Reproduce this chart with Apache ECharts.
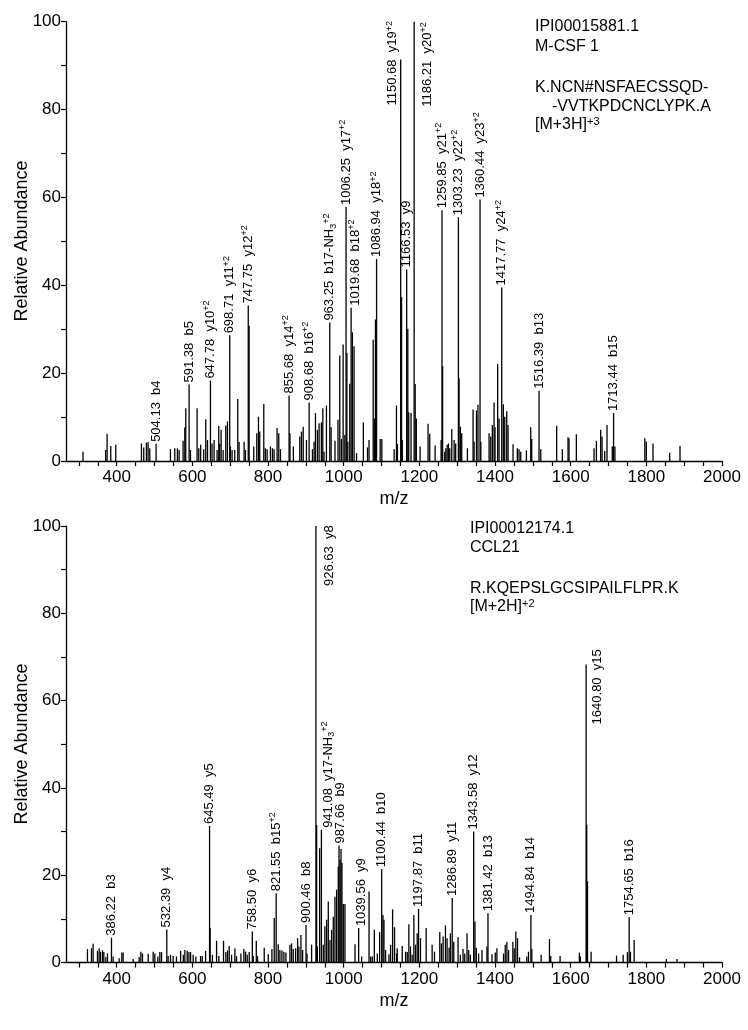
<!DOCTYPE html>
<html><head><meta charset="utf-8">
<script src="https://cdn.jsdelivr.net/npm/echarts@6/dist/echarts.min.js"></script>
<style>html,body{margin:0;padding:0;background:#fff}#c{width:748px;height:1030px}</style>
</head><body><div id="c"></div>
<script>
// ---------- DATA ----------
const topMz = [311,371,374.6,384.3,397.5,465.4,471.5,478.6,483,487.4,504.13,542,553.5,560.5,565,575.5,580,582.6,591.38,595,612.5,617,622,630,635.4,640,647.78,652,657.5,665.4,669.8,672.4,676,681.3,688.3,692.7,698.71,700.6,705,712,720,723.5,736.8,740.3,747.75,750,762.3,770.3,774.7,778,788.8,793,797.6,806.4,811.7,816,824,828.4,833,855.68,858,867,884,888.4,893,901.6,908.68,917.4,921.8,925.4,930.6,935,941,944.8,948,954.4,963.25,966.8,977,985,989.7,994,998.5,1003,1006.25,1008.5,1011,1016,1019.68,1023,1027.5,1034,1052,1063,1067,1078,1081,1084,1086.94,1096.4,1100.8,1133.4,1139.5,1142,1150.68,1153,1155,1166.53,1169.5,1172,1178,1186.21,1189,1192,1202,1223,1227.5,1241.7,1257.5,1259.85,1261.5,1267,1270,1273.5,1277,1280.5,1285.7,1291.9,1296,1303.23,1305,1308.5,1312,1327,1342,1344.7,1351,1355,1360.44,1362.5,1384.3,1388.7,1393,1397.5,1400,1407,1410.7,1417.77,1422,1425.7,1431,1434.5,1447.7,1459,1463.5,1468,1483,1494.4,1497,1516.39,1521,1563,1578,1593,1595.6,1615,1661.7,1668,1679.3,1683,1690,1696,1710,1713.44,1717,1796,1800,1817.6,1861.7,1889];
const topInt = [2.1,2.5,6.2,3.4,3.7,4.0,3.1,4.2,4.3,2.9,3.9,2.7,2.9,2.9,2.5,4.6,7.6,12.0,17.4,2.5,12.0,2.9,3.7,2.7,9.5,4.8,18.3,4.0,4.8,2.5,8.0,3.9,7.1,2.5,8.1,9.0,28.6,3.3,2.5,2.5,14.1,4.3,4.4,2.5,35.4,30.8,3.3,6.3,10.1,6.7,13.0,2.9,2.7,3.3,2.9,2.7,7.5,6.3,2.7,14.9,6.3,3.3,5.6,6.7,7.8,4.8,13.3,2.7,4.4,10.9,7.1,8.6,8.8,12.0,2.1,12.6,31.5,7.7,4.6,9.4,24.0,5.0,26.5,5.9,57.8,24.6,4.4,17.6,34.9,29.3,26.1,1.8,8.8,3.1,4.8,27.6,9.7,32.2,46.0,5.0,5.0,2.7,12.6,3.9,91.4,37.3,4.8,43.6,30.1,11.1,10.9,100,17.5,9.7,3.3,8.5,6.2,3.5,4.8,57.1,21.6,2.1,2.9,3.7,4.0,2.9,7.3,4.8,4.0,55.5,18.9,7.8,6.3,2.9,11.7,4.4,11.5,12.8,59.5,4.4,6.3,5.6,8.2,13.3,7.7,22.1,9.7,39.5,12.9,10.1,11.3,8.2,3.8,2.9,2.7,2.1,2.4,7.7,5.0,16.0,2.7,8.0,2.7,5.4,5.2,6.1,2.9,4.6,7.1,5.6,2.3,8.2,3.3,10.9,3.3,5.2,4.4,4.0,1.9,3.4];
const topLabelMz = [504.13,591.38,647.78,698.71,747.75,855.68,908.68,963.25,1006.25,1019.68,1086.94,1150.68,1166.53,1186.21,1259.85,1303.23,1360.44,1417.77,1516.39,1713.44];
const topLabelIon = ['b4','b5','y10^+2','y11^+2','y12^+2','y14^+2','b16^+2','b17-NH_3^+2','y17^+2','b18^+2','y18^+2','y19^+2','y9','y20^+2','y21^+2','y22^+2','y23^+2','y24^+2','b13','b15'];
const topInfo = ['IPI00015881.1','M-CSF 1','K.NCN#NSFAECSSQD-','-VVTKPDCNCLYPK.A','[M+3H]^+3'];

const botMz = [322.7,333.3,337.7,349.2,353.6,357.1,362.4,366,371.2,375.6,386.22,390.6,406.5,413.5,417,443.5,459.4,463.8,468.2,483.2,496.4,500.8,508.8,514,518.5,532.39,536,542.3,549.3,558,568.9,576,580.2,586.4,590.9,595.3,602.2,609.3,621.6,626,635,645.49,647,653,664,670,682.4,688.6,693,697.4,703.6,712.4,716.8,728.3,736.2,740.6,745,750.3,758.5,761,769,772.4,790,800.6,810.3,816.4,821.55,827,831.4,836.7,842,847.3,857.9,862.3,866.7,872.9,878.2,881.7,887,891.4,900.46,903,915.2,926.63,928.5,930.5,936.5,941.08,946,950.4,955,959.3,963.7,968,972.5,976.9,981.3,985.7,987.66,990.5,993,995.4,999,1003.4,1030,1039.56,1047.4,1067,1071.4,1075.7,1081,1088.9,1095,1100.44,1103.8,1106.4,1110.8,1119.6,1124,1129.3,1134.5,1139.8,1141.6,1154.8,1163.6,1168,1172.3,1176.7,1181,1185.5,1189.9,1194.3,1197.87,1203,1218,1233.8,1240,1254,1258.4,1262.8,1269,1273.3,1278.6,1282,1286.89,1291,1302.3,1308.4,1315.5,1319.9,1326,1330.4,1334.8,1343.58,1347,1350.6,1356.7,1365.5,1378.7,1381.42,1392,1400.7,1405,1422.6,1427,1431.4,1435.8,1447.2,1450.7,1455,1459.5,1464.8,1484,1488.5,1494.84,1497.3,1521.9,1544,1547.4,1572,1623,1625.6,1640.8,1642.5,1644.5,1654,1721.3,1738.8,1750,1754.65,1758,1767.8,1853,1881];
const botInt = [3.1,3.3,4.3,2.7,3.3,2.5,2.8,2.4,1.2,2.1,5.7,1.4,1.0,2.3,2.3,0.8,1.2,2.5,2.1,2.0,2.5,2.1,1.4,2.4,2.4,7.6,1.5,1.8,1.5,1.4,2.7,1.8,2.9,2.7,2.4,2.4,1.8,1.4,1.5,1.5,2.7,31.3,7.9,1.8,5.0,1.5,5.0,2.4,2.8,3.8,1.8,3.3,1.5,2.1,3.1,2.5,1.8,2.4,7.1,1.5,5.0,1.5,3.4,1.9,3.1,10.2,15.9,4.2,2.9,2.8,2.5,2.3,4.1,4.4,3.1,3.3,5.6,3.7,6.3,2.9,8.6,2.1,4.1,100,31.5,3.7,26.2,30.4,4.1,8.3,9.8,14.0,5.2,7.5,10.5,15.1,16.7,22.0,26.8,23.5,26.0,22.8,13.4,13.4,4.2,7.9,1.4,16.3,1.4,1.4,7.5,2.1,7.0,21.4,10.9,9.8,2.9,1.9,4.1,12.2,8.1,2.1,3.3,3.8,2.5,2.4,8.8,3.7,1.8,10.9,4.1,6.7,12.3,5.6,7.9,4.1,2.5,7.0,4.4,6.0,8.5,5.6,3.4,6.7,14.8,4.8,5.8,1.8,3.1,2.1,6.7,2.9,1.8,30.0,9.4,3.4,2.1,2.9,3.7,11.3,1.9,2.3,3.3,2.1,4.1,4.8,2.9,4.8,3.3,7.1,5.6,1.2,1.4,2.5,10.9,3.1,1.8,5.4,1.5,1.5,2.3,1.4,68.3,31.6,18.6,2.5,1.6,1.8,2.4,10.4,2.5,5.2,0.8,0.8];
const botLabelMz = [386.22,532.39,645.49,758.5,821.55,900.46,926.63,941.08,987.66,1039.56,1100.44,1197.87,1286.89,1343.58,1381.42,1494.84,1640.8,1754.65];
const botLabelIon = ['b3','y4','y5','y6','b15^+2','b8','y8','y17-NH_3^+2','b9','y9','b10','b11','y11','y12','b13','b14','y15','b16'];
const botInfo = ['IPI00012174.1','CCL21','R.KQEPSLGCSIPAILFLPR.K','[M+2H]^+2'];

const xTickValues = [300,350,400,450,500,550,600,650,700,750,800,850,900,950,1000,1050,1100,1150,1200,1250,1300,1350,1400,1450,1500,1550,1600,1650,1700,1750,1800,1850,1900,1950,2000];
const xLabelValues = [400,600,800,1000,1200,1400,1600,1800,2000];
const yLabelValues = [0,20,40,60,80,100];
const yTitle = 'Relative Abundance';

// ---------- STYLE (pixel offsets for labels set beside tall peaks) ----------
const topLabelShift = {'1150.68':[-8,48],'1186.21':[13,87],'1019.68':[4,0]};
const botLabelShift = {'926.63':[13,62],'1640.8':[11,62],'941.08':[7,0],'987.66':[1,0],'1039.56':[3,0]};

const FONT = '"Liberation Sans", Arial, Helvetica, sans-serif';

function ionRich(s){
  let out = '{n|' + s + '}';
  out = out.replace(/_(\d+)/, '}{sub|$1}{n|');
  out = out.replace(/\^([^}]+)/, '}{sup|$1}{n|');
  return out.replace(/\{n\|\}/g, '');
}
const rich = {
  n: {fontSize: 13, fontFamily: FONT, fill: '#000', color:'#000', lineHeight: 16, verticalAlign: 'middle'},
  sup: {fontSize: 9, fontFamily: FONT, fill: '#000', color:'#000', lineHeight: 9, verticalAlign: 'top'},
  sub: {fontSize: 9, fontFamily: FONT, fill: '#000', color:'#000', lineHeight: 9, verticalAlign: 'bottom'}
};

function labelData(mzArr, intArr, lblMz, lblIon, shift){
  return lblMz.map((m, i) => {
    const h = intArr[mzArr.indexOf(m)];
    const s = shift[String(m)] || [0,0];
    return {value: [m, h, s[0], s[1]], text: '{n|' + m.toFixed(2) + '  }' + ionRich(lblIon[i])};
  });
}

function labelSeries(idx, data){
  return {
    type: 'custom', xAxisIndex: idx, yAxisIndex: idx, clip: false, silent: true,
    data: data,
    encode: {x: 0, y: 1},
    renderItem: function(params, api){
      const p = api.coord([api.value(0), api.value(1)]);
      const d = data[params.dataIndex];
      return {
        type: 'text', x: p[0] + api.value(2), y: p[1] - 2 + api.value(3), rotation: Math.PI/2,
        style: {text: d.text, rich: rich, align: 'left', verticalAlign: 'middle', fontSize: 13, fontFamily: FONT, fill: '#000'}
      };
    }
  };
}

function peakSeries(idx, mz, it){
  return {
    type: 'bar', xAxisIndex: idx, yAxisIndex: idx, barWidth: 1.3, silent: true,
    itemStyle: {color: '#000'},
    data: mz.map((m, i) => [m, it[i]])
  };
}

function xAxisCfg(idx){
  return {
    type: 'value', gridIndex: idx, min: 266, max: 2000,
    name: 'm/z', nameLocation: 'middle', nameGap: 29,
    nameTextStyle: {fontSize: 18, fontFamily: FONT, color: '#000'},
    axisLine: {lineStyle: {color: '#000', width: 1.3}},
    axisTick: {show: true, length: 5, customValues: xTickValues, lineStyle: {color: '#000', width: 1.2}},
    axisLabel: {customValues: xLabelValues, fontSize: 17, fontFamily: FONT, color: '#000', margin: 8,
      formatter: v => String(v)},
    splitLine: {show: false}
  };
}
function yAxisCfg(idx){
  return {
    type: 'value', gridIndex: idx, min: 0, max: 100, interval: 10,
    axisLine: {show: true, lineStyle: {color: '#000', width: 1.3}},
    axisTick: {show: true, length: 5, lineStyle: {color: '#000', width: 1.2}},
    axisLabel: {fontSize: 17, fontFamily: FONT, color: '#000', margin: 5,
      formatter: v => (yLabelValues.indexOf(v) >= 0 ? String(v) : '')},
    splitLine: {show: false}
  };
}

function infoText(s){
  if (s.indexOf('^') >= 0){
    const parts = s.split('^');
    return '{a|' + parts[0] + '}{b|' + parts[1] + '}';
  }
  return '{a|' + s + '}';
}
const infoRich = {
  a: {fontSize: 16, fontFamily: FONT, fill: '#000', lineHeight: 18, verticalAlign: 'middle'},
  b: {fontSize: 11, fontFamily: FONT, fill: '#000', lineHeight: 11, verticalAlign: 'top'}
};
const topInfoPos = [[535,27],[535,46.5],[535,87.5],[552,106.5],[535,125]];
const botInfoPos = [[470,528.5],[470,548],[470,588.5],[470,607]];
const graphics = [];
topInfo.forEach((s, i) => graphics.push({type: 'text', x: topInfoPos[i][0], y: topInfoPos[i][1],
  style: {text: infoText(s), rich: infoRich, verticalAlign: 'middle', align: 'left'}}));
botInfo.forEach((s, i) => graphics.push({type: 'text', x: botInfoPos[i][0], y: botInfoPos[i][1],
  style: {text: infoText(s), rich: infoRich, verticalAlign: 'middle', align: 'left'}}));
[[22, 241], [22, 744]].forEach(p => graphics.push({type: 'text', x: p[0], y: p[1], rotation: Math.PI/2,
  style: {text: yTitle, fontSize: 18, fontFamily: FONT, fill: '#000', align: 'center', verticalAlign: 'middle'}}));

const chart = echarts.init(document.getElementById('c'), null, {renderer: 'canvas'});
chart.setOption({
  animation: false,
  backgroundColor: '#fff',
  grid: [
    {left: 66, right: 26, top: 21.7, height: 439.3},
    {left: 66, right: 26, top: 526, height: 436.6}
  ],
  xAxis: [xAxisCfg(0), xAxisCfg(1)],
  yAxis: [yAxisCfg(0), yAxisCfg(1)],
  series: [
    peakSeries(0, topMz, topInt),
    peakSeries(1, botMz, botInt),
    labelSeries(0, labelData(topMz, topInt, topLabelMz, topLabelIon, topLabelShift)),
    labelSeries(1, labelData(botMz, botInt, botLabelMz, botLabelIon, botLabelShift))
  ],
  graphic: graphics
});
</script></body></html>
